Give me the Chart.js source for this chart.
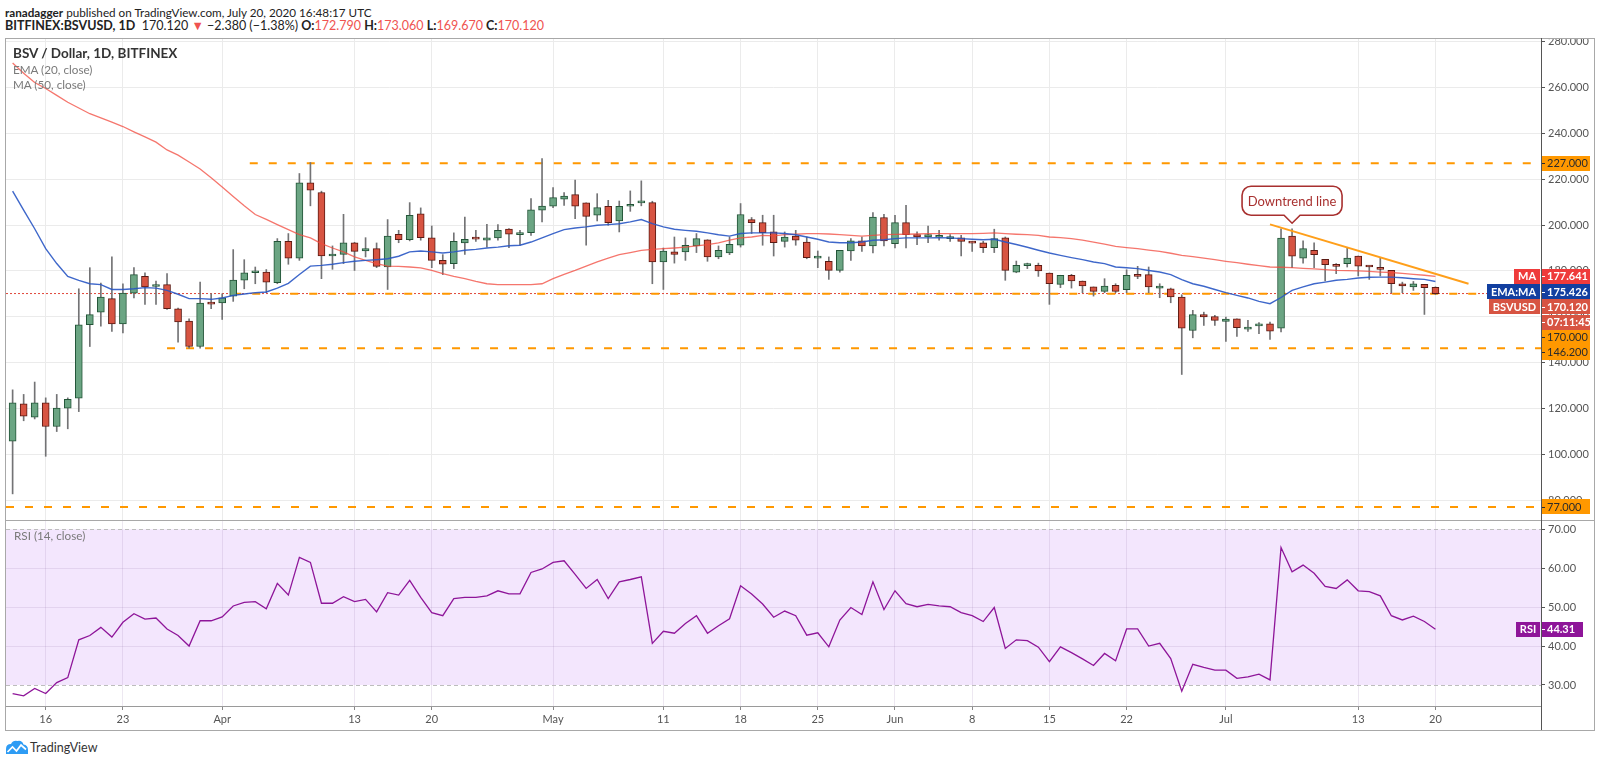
<!DOCTYPE html>
<html>
<head>
<meta charset="utf-8">
<script src="https://cdn.jsdelivr.net/npm/chart.js@4.4.1/dist/chart.umd.min.js"></script>
<style>
  body { margin: 0; width: 1600px; height: 763px; background: #fff; position: relative; overflow: hidden;
         font-family: Lato, "Liberation Sans", sans-serif; color: #222; }
  .abs { position: absolute; white-space: nowrap; }
  .hdr { font-size: 12.5px; line-height: 14px; }
  .red { color: #ef5350; }
  .leg { font-size: 11.7px; line-height: 15px; color: #7a7a7a; }
  canvas { position: absolute; }
</style>
</head>
<body>

<div class="abs hdr" style="left:5px;top:5px;font-size:11.7px;"><b>ranadagger</b> published on TradingView.com, July 20, 2020 16:48:17 UTC</div>
<div class="abs hdr" style="left:5px;top:19px;"><b>BITFINEX:BSVUSD, 1D</b>&nbsp; 170.120 <span class="red">▼</span> −2.380 (−1.38%) <b>O:</b><span class="red">172.790</span> <b>H:</b><span class="red">173.060</span> <b>L:</b><span class="red">169.670</span> <b>C:</b><span class="red">170.120</span></div>

<div class="abs" style="left:5px;top:38px;width:1588px;height:691px;border:1px solid #a8a8a8;"></div>
<canvas id="mainChart" width="1588" height="481" style="left:6px;top:39px;"></canvas>
<canvas id="rsiChart" width="1588" height="209" style="left:6px;top:521px;"></canvas>
<div class="abs" style="left:6px;top:520px;width:1588px;height:1px;background:#a8a8a8;"></div>
<div class="abs" style="left:1541px;top:38px;width:1px;height:692px;background:#555;"></div>

<div class="abs leg" style="left:13px;top:46px;color:#333;font-weight:bold;font-size:13.5px;">BSV / Dollar, 1D, BITFINEX</div>
<div class="abs leg" style="left:13px;top:62px;">EMA (20, close)</div>
<div class="abs leg" style="left:13px;top:77px;">MA (50, close)</div>
<div class="abs leg" style="left:14px;top:528px;">RSI (14, close)</div>

<div class="abs" style="left:5px;top:739px;">
  <svg width="24" height="15" viewBox="0 0 24 15">
    <path d="M1 14 L1 9 Q1 4 6 4 Q8 0 12.5 1 Q17 0 18.5 4.5 Q23 5 23 10 L23 14 Z" fill="#2e9cf4"/>
    <polyline points="2.5,12 7.5,7 11.5,11 16,5 21,9.5" fill="none" stroke="#fff" stroke-width="1.7"/>
  </svg>
</div>
<div class="abs" style="left:30px;top:740px;font-size:12.5px;color:#333;">TradingView</div>

<script>
// ---- data (day 0 = 13 Mar 2020, day 129 = 20 Jul 2020) ----
const open = [
  105.7, 122.0, 116.2, 122.4, 112.1, 120.1, 124.5, 156.5, 162.0, 167.9,
  156.9, 170.3, 177.6, 173.2, 174.0, 163.5, 158.1, 147.0, 166.0, 166.0,
  169.0, 176.0, 179.2, 179.5, 174.9, 192.9, 185.6, 218.4, 214.2, 186.5,
  187.2, 192.2, 188.7, 189.7, 181.7, 196.0, 193.6, 204.9, 194.4, 184.6,
  183.2, 192.2, 194.2, 193.4, 194.4, 198.2, 195.8, 196.7, 206.5, 208.3,
  211.3, 213.3, 209.7, 204.3, 208.2, 201.8, 208.2, 209.7, 209.8, 183.9,
  188.3, 188.3, 190.9, 193.6, 186.1, 187.8, 191.2, 202.4, 201.1, 197.0,
  192.9, 195.2, 192.6, 185.6, 184.2, 180.2, 188.7, 193.1, 190.9, 203.3,
  191.9, 201.1, 195.8, 194.8, 194.7, 194.1, 194.4, 192.5, 192.3, 190.1,
  194.4, 179.5, 182.3, 182.4, 179.1, 174.1, 178.1, 175.6, 173.0, 171.1,
  173.7, 171.8, 177.8, 178.4, 172.5, 172.2, 168.6, 154.0, 160.9, 160.1,
  158.0, 159.1, 154.6, 156.0, 156.9, 155.0, 195.2, 185.6, 189.0, 185.0,
  182.2, 183.2, 186.5, 181.8, 181.4, 180.2, 174.4, 173.0, 174.1, 172.79
];
const high = [
  128.1, 126.1, 131.5, 124.6, 126.1, 124.6, 172.2, 181.4, 174.7, 186.1,
  174.4, 181.4, 179.2, 175.6, 178.8, 163.8, 159.1, 175.1, 170.0, 170.0,
  189.3, 184.9, 181.7, 180.6, 194.1, 196.3, 222.5, 227.3, 214.8, 190.9,
  204.7, 192.5, 194.5, 192.2, 202.4, 197.7, 209.8, 207.5, 199.6, 187.1,
  196.6, 203.5, 197.7, 200.3, 200.2, 198.5, 197.7, 211.6, 229.0, 216.4,
  214.2, 219.6, 209.7, 213.7, 210.8, 210.5, 214.9, 219.3, 210.4, 190.0,
  194.8, 194.4, 196.3, 193.6, 190.9, 194.8, 209.4, 203.3, 204.3, 204.3,
  197.0, 197.7, 194.8, 188.7, 186.1, 189.0, 194.1, 194.8, 205.4, 204.7,
  204.3, 208.6, 197.0, 199.6, 197.7, 195.8, 195.5, 192.9, 192.9, 198.2,
  194.8, 184.3, 183.4, 183.4, 179.1, 178.1, 178.5, 175.6, 173.0, 176.6,
  174.4, 180.5, 182.0, 181.7, 174.4, 172.5, 169.6, 162.8, 162.0, 160.6,
  159.9, 159.1, 158.4, 157.4, 157.7, 198.4, 198.4, 193.1, 192.2, 185.0,
  183.2, 190.1, 186.5, 182.1, 185.6, 180.2, 175.1, 175.4, 174.1, 173.06
];
const low = [
  82.7, 114.6, 115.4, 99.1, 109.9, 111.1, 118.6, 147.0, 155.9, 153.6,
  152.9, 168.2, 165.4, 165.4, 163.2, 148.9, 146.3, 146.3, 163.5, 158.8,
  166.7, 172.2, 174.4, 170.5, 174.4, 182.9, 184.6, 208.4, 176.6, 180.7,
  183.2, 180.2, 186.1, 181.4, 171.9, 192.3, 193.1, 193.4, 181.4, 178.4,
  181.0, 187.2, 192.9, 190.4, 193.4, 190.1, 191.2, 195.5, 201.4, 207.6,
  208.6, 202.8, 191.2, 201.8, 199.9, 197.0, 206.0, 208.4, 174.4, 171.9,
  183.4, 184.6, 188.0, 184.2, 185.3, 187.1, 190.4, 196.3, 191.2, 186.5,
  190.4, 191.2, 185.3, 181.4, 176.3, 179.5, 184.6, 188.5, 187.8, 190.9,
  190.0, 190.0, 191.5, 192.3, 193.4, 192.9, 186.5, 188.5, 188.0, 188.0,
  175.9, 179.2, 181.0, 177.6, 165.4, 172.7, 172.5, 170.5, 169.0, 170.5,
  170.5, 170.5, 176.6, 170.5, 168.3, 166.1, 134.8, 150.8, 156.2, 156.2,
  149.2, 151.4, 153.6, 152.6, 150.1, 153.4, 181.4, 183.4, 181.4, 175.6,
  178.8, 181.7, 177.8, 176.3, 177.8, 170.5, 170.5, 171.5, 161.0, 169.67
];
const close = [
  122.4, 116.6, 122.4, 112.1, 120.1, 124.0, 156.5, 160.9, 168.6, 156.9,
  170.3, 178.4, 173.0, 174.0, 163.5, 157.7, 147.0, 166.0, 165.5, 168.2,
  176.0, 179.2, 179.5, 175.1, 192.9, 185.6, 218.4, 215.2, 186.5, 186.8,
  192.2, 188.5, 189.7, 182.0, 195.2, 193.6, 204.3, 194.5, 184.6, 182.9,
  192.9, 193.8, 193.9, 194.4, 197.7, 196.0, 196.2, 206.7, 208.3, 212.0,
  212.7, 208.3, 203.8, 207.6, 201.1, 208.2, 209.1, 210.5, 183.9, 188.7,
  187.2, 191.2, 194.1, 186.1, 189.0, 191.6, 204.6, 201.1, 196.7, 192.3,
  194.8, 193.4, 185.8, 186.4, 180.2, 189.0, 193.1, 190.9, 203.5, 193.1,
  201.1, 195.8, 194.8, 195.8, 195.3, 194.8, 192.9, 192.1, 190.1, 194.1,
  180.2, 182.4, 182.5, 180.0, 174.4, 178.1, 175.6, 173.4, 171.1, 173.4,
  171.1, 178.1, 177.6, 173.0, 173.4, 168.6, 155.0, 160.9, 159.9, 158.4,
  159.0, 155.2, 155.5, 156.3, 153.7, 194.3, 186.4, 189.7, 187.1, 182.7,
  182.0, 185.6, 182.1, 181.7, 180.7, 174.4, 173.4, 174.4, 172.7, 170.12
];
const ema20 = [
  214.8, 206.5, 198.4, 189.7, 183.2, 177.6, 175.9, 174.4, 174.0, 171.9,
  171.9, 172.2, 172.7, 172.5, 171.5, 169.8, 167.9, 167.9, 167.6, 168.2,
  169.3, 169.9, 170.5, 170.8, 172.5, 174.6, 178.4, 182.1, 182.4, 182.9,
  183.6, 184.2, 184.6, 184.9, 185.3, 186.4, 188.3, 188.7, 188.3, 187.8,
  188.3, 189.0, 189.4, 190.0, 190.4, 191.0, 191.2, 192.6, 194.4, 196.3,
  198.0, 198.7, 199.2, 199.9, 200.2, 200.6, 201.4, 202.4, 200.6, 199.2,
  198.2, 197.7, 197.3, 196.6, 195.8, 195.2, 196.3, 196.6, 196.6, 196.6,
  196.3, 195.8, 194.8, 193.8, 192.6, 192.3, 192.3, 192.6, 193.4, 193.6,
  194.1, 194.4, 194.4, 194.4, 194.5, 194.4, 194.1, 193.8, 193.6, 193.8,
  192.6, 191.5, 190.3, 189.0, 187.8, 186.8, 185.8, 184.9, 183.9, 183.2,
  181.7, 181.4, 181.0, 180.2, 179.5, 178.4, 176.2, 174.4, 173.3, 171.9,
  170.5, 169.3, 168.2, 166.7, 165.7, 168.4, 171.5, 173.0, 174.4, 175.1,
  175.9, 176.3, 176.9, 177.2, 177.3, 177.3, 177.0, 176.6, 176.3, 175.4
];
const ma50 = [
  270.7, 266.3, 262.2, 259.6, 256.6, 253.6, 251.1, 248.6, 246.8, 244.9,
  243.0, 240.7, 238.5, 236.2, 232.8, 230.5, 227.5, 224.5, 220.6, 216.6,
  212.5, 208.4, 204.6, 202.5, 200.2, 198.0, 195.8, 194.4, 191.9, 190.0,
  188.3, 186.1, 184.6, 183.2, 182.1, 182.0, 181.7, 181.3, 180.2, 178.8,
  177.6, 176.6, 175.4, 174.4, 174.0, 174.0, 174.0, 174.0, 174.4, 176.6,
  178.5, 180.2, 182.1, 183.9, 185.6, 187.1, 188.0, 189.0, 189.4, 189.7,
  190.0, 190.4, 190.9, 191.5, 192.2, 193.4, 194.4, 194.8, 195.5, 195.3,
  195.8, 196.0, 196.3, 196.3, 196.1, 195.8, 195.5, 195.2, 195.5, 195.8,
  195.9, 196.0, 196.1, 196.3, 196.3, 196.3, 196.3, 196.3, 196.4, 196.6,
  196.3, 196.0, 195.8, 195.5, 194.8, 194.5, 194.1, 193.4, 192.6, 191.7,
  190.7, 190.2, 189.7, 189.1, 188.5, 187.7, 186.8, 186.2, 185.6, 184.9,
  184.2, 183.6, 182.9, 182.3, 181.7, 181.6, 181.4, 181.1, 180.9, 180.6,
  180.2, 180.1, 180.0, 179.8, 179.5, 179.3, 178.9, 178.5, 178.1, 177.6
];
const rsi14 = [
  27.8, 27.2, 29.1, 27.8, 30.6, 31.9, 41.6, 42.7, 44.8, 42.3,
  46.1, 48.3, 46.9, 47.2, 44.4, 42.7, 40.0, 46.5, 46.5, 47.5,
  50.3, 51.2, 51.4, 49.6, 56.1, 53.1, 62.8, 61.5, 51.0, 51.0,
  52.7, 51.4, 52.0, 48.8, 53.7, 53.1, 56.9, 52.5, 48.6, 47.8,
  52.2, 52.5, 52.5, 52.9, 54.2, 53.4, 53.4, 58.9, 59.8, 61.5,
  61.9, 58.4, 54.8, 57.1, 52.2, 56.5, 57.1, 57.8, 40.7, 43.8,
  43.3, 45.8, 47.8, 43.3, 45.2, 47.0, 55.5, 53.4, 50.8, 47.4,
  49.0, 47.8, 42.8, 43.4, 39.8, 46.7, 49.9, 48.1, 56.5, 49.4,
  54.2, 50.9, 50.1, 50.7, 50.3, 50.1, 48.6, 47.8, 46.3, 49.9,
  39.4, 41.6, 41.4, 39.7, 36.0, 39.8, 38.3, 36.7, 35.0, 38.1,
  36.2, 44.4, 44.4, 40.0, 40.7, 36.8, 28.4, 35.3, 34.5, 33.8,
  33.8, 31.7, 32.1, 32.8, 31.3, 65.3, 59.1, 60.8, 58.7, 55.3,
  54.8, 57.0, 54.2, 54.0, 52.9, 47.8, 46.7, 47.7, 46.3, 44.31
];

const xTickDays   = [3, 10, 19, 31, 38, 49, 59, 66, 73, 80, 87, 94, 101, 110, 122, 129];
const xTickLabels = ['16', '23', 'Apr', '13', '20', 'May', '11', '18', '25', 'Jun', '8', '15', '22', 'Jul', '13', '20'];
const priceTicks  = [80, 100, 120, 140, 160, 180, 200, 220, 240, 260, 280];
const rsiTicks    = [30, 40, 50, 60, 70];

// horizontal levels drawn on the chart, and the day each one starts from
const levelPrices = [227, 170, 146.2, 77];
const levelFrom   = [21.5, 20, 14, -0.6];
const lastPrice   = 170.12;
const trendDays   = [114, 132];
const trendPrices = [200.3, 174.4];

// visible ranges
const dayMin = -0.6, dayMax = 138.57;
const priceMin = 71.3, priceMax = 281.2;
const rsiMin = 24.6, rsiMax = 72.13;

const UP = '#6ba583', DOWN = '#d75442', UP_EDGE = '#225437', DOWN_EDGE = '#5b1a13', WICK = '#737375';
const FONT = 'Lato, "Liberation Sans", sans-serif';
const gridColor = '#ebebeb';
const rsiGrid = 'rgba(140, 110, 170, 0.16)';

const isUp = close.map((c, i) => c >= open[i]);
const pts = arr => arr.map((v, i) => ({ x: i, y: v }));

// ---- label helpers for the price axis ----
function valueBox(ctx, area, yPix, text, bg, fg, bold) {
  const h = 15, left = area.right;
  ctx.fillStyle = bg;
  ctx.fillRect(left, Math.round(yPix - h / 2), 49, h);
  ctx.strokeStyle = fg;
  ctx.lineWidth = 1;
  ctx.beginPath();
  ctx.moveTo(left, Math.round(yPix) + 0.5);
  ctx.lineTo(left + 4, Math.round(yPix) + 0.5);
  ctx.stroke();
  ctx.fillStyle = fg;
  ctx.font = (bold ? 'bold ' : '') + '11px ' + FONT;
  ctx.textAlign = 'left';
  ctx.textBaseline = 'middle';
  ctx.fillText(text, left + 6, yPix + 0.5);
}

function tagBox(ctx, area, yPix, text, bg) {
  ctx.font = 'bold 11px ' + FONT;
  const w = Math.round(ctx.measureText(text).width) + 8, h = 15;
  ctx.fillStyle = bg;
  ctx.fillRect(area.right - w - 1, Math.round(yPix - h / 2), w, h);
  ctx.fillStyle = '#fff';
  ctx.textAlign = 'center';
  ctx.textBaseline = 'middle';
  ctx.fillText(text, area.right - 1 - w / 2, yPix + 0.5);
}

const mainOverlay = {
  id: 'mainOverlay',
  afterDraw(chart) {
    const { ctx, chartArea: area, scales: { x, y } } = chart;
    ctx.save();

    // callout over the start of the trend line
    const tipX = x.getPixelForValue(116), tipY = y.getPixelForValue(200.8);
    const w = 100, h = 29, r = 9;
    const l = tipX - w / 2, b = tipY - 8, t = b - h;
    ctx.beginPath();
    ctx.moveTo(l + r, t);
    ctx.lineTo(l + w - r, t);
    ctx.arcTo(l + w, t, l + w, t + r, r);
    ctx.lineTo(l + w, b - r);
    ctx.arcTo(l + w, b, l + w - r, b, r);
    ctx.lineTo(tipX + 8, b);
    ctx.lineTo(tipX, tipY);
    ctx.lineTo(tipX - 8, b);
    ctx.lineTo(l + r, b);
    ctx.arcTo(l, b, l, b - r, r);
    ctx.lineTo(l, t + r);
    ctx.arcTo(l, t, l + r, t, r);
    ctx.closePath();
    ctx.fillStyle = '#fff';
    ctx.fill();
    ctx.strokeStyle = '#a8302f';
    ctx.lineWidth = 1.6;
    ctx.stroke();
    ctx.fillStyle = '#a8302f';
    ctx.font = '13px ' + FONT;
    ctx.textAlign = 'center';
    ctx.textBaseline = 'middle';
    ctx.fillText('Downtrend line', tipX, (t + b) / 2 + 1);

    // price axis labels, stacked so they do not overlap
    valueBox(ctx, area, y.getPixelForValue(227), '227.000', '#ff9800', '#2b2b2b', false);
    valueBox(ctx, area, y.getPixelForValue(77), '77.000', '#ff9800', '#2b2b2b', false);

    const stack = [
      { v: ma50[ma50.length - 1], text: '177.641', bg: '#ef3b3b', tag: 'MA' },
      { v: ema20[ema20.length - 1], text: '175.426', bg: '#123fa0', tag: 'EMA:MA' },
      { v: lastPrice, text: '170.120', bg: DOWN, tag: 'BSVUSD' },
      { v: null, text: '07:11:45', bg: DOWN },
      { v: 170, text: '170.000', bg: '#ff9800', fg: '#2b2b2b' },
      { v: 146.2, text: '146.200', bg: '#ff9800', fg: '#2b2b2b' }
    ];
    let prev = -Infinity;
    stack.forEach(s => {
      const want = s.v === null ? prev + 15.2 : y.getPixelForValue(s.v);
      const yy = Math.max(want, prev + 15.2);
      prev = yy;
      valueBox(ctx, area, yy, s.text, s.bg, s.fg || '#fff', !s.fg);
      if (s.tag) tagBox(ctx, area, yy, s.tag, s.bg);
    });
    ctx.restore();
  }
};

const levelSets = levelPrices.map((p, i) => ({
  type: 'line',
  data: [{ x: levelFrom[i], y: p }, { x: dayMax, y: p }],
  borderColor: '#ff9800',
  borderWidth: 2,
  borderDash: [8, 11],
  pointRadius: 0,
  order: 3
}));

new Chart(document.getElementById('mainChart'), {
  type: 'bar',
  data: {
    datasets: [
      {
        label: 'EMA (20, close)',
        type: 'line',
        data: pts(ema20),
        borderColor: 'rgba(41, 87, 196, 0.9)',
        borderWidth: 1.4,
        pointRadius: 0,
        order: 0
      },
      {
        label: 'MA (50, close)',
        type: 'line',
        data: pts(ma50),
        borderColor: 'rgba(242, 72, 60, 0.75)',
        borderWidth: 1.3,
        pointRadius: 0,
        order: 0
      },
      {
        label: 'Downtrend line',
        type: 'line',
        data: trendDays.map((d, i) => ({ x: d, y: trendPrices[i] })),
        borderColor: '#ff9f1a',
        borderWidth: 2,
        pointRadius: 0,
        order: 0
      },
      {
        label: 'body',
        data: open.map((o, i) => ({ x: i, y: [o, close[i]] })),
        backgroundColor: isUp.map(u => (u ? UP : DOWN)),
        borderColor: isUp.map(u => (u ? UP_EDGE : DOWN_EDGE)),
        borderWidth: 1,
        borderSkipped: false,
        barThickness: 7,
        minBarLength: 2,
        grouped: false,
        order: 1
      },
      {
        label: 'wick',
        data: low.map((l, i) => ({ x: i, y: [l, high[i]] })),
        backgroundColor: WICK,
        barThickness: 1,
        grouped: false,
        order: 2
      },
      {
        label: 'last',
        type: 'line',
        data: [{ x: dayMin, y: lastPrice }, { x: dayMax, y: lastPrice }],
        borderColor: '#e0473a',
        borderWidth: 1,
        borderDash: [2, 2],
        pointRadius: 0,
        order: 4
      },
      ...levelSets
    ]
  },
  options: {
    responsive: false,
    animation: false,
    layout: { padding: 0 },
    plugins: { legend: { display: false }, tooltip: { enabled: false } },
    scales: {
      x: {
        type: 'linear',
        min: dayMin,
        max: dayMax,
        offset: false,
        grid: { color: gridColor, drawTicks: false, offset: false },
        border: { display: false },
        ticks: { display: false },
        afterBuildTicks: s => { s.ticks = xTickDays.map(v => ({ value: v })); },
        afterFit: s => { s.height = 0; s.paddingLeft = 0; s.paddingRight = 0; }
      },
      y: {
        type: 'linear',
        position: 'right',
        min: priceMin,
        max: priceMax,
        beginAtZero: false,
        grid: { color: gridColor, tickLength: 4, tickColor: '#555' },
        border: { display: false },
        ticks: { padding: 3, color: '#555', font: { family: FONT, size: 11 }, callback: v => v.toFixed(3) },
        afterBuildTicks: s => { s.ticks = priceTicks.map(v => ({ value: v })); },
        afterFit: s => { s.width = 53; s.paddingTop = 0; s.paddingBottom = 0; }
      }
    }
  },
  plugins: [mainOverlay]
});

// ---- RSI pane ----
const rsiOverlay = {
  id: 'rsiOverlay',
  beforeDraw(chart) {
    const { ctx, chartArea: a, scales: { y } } = chart;
    const top = y.getPixelForValue(70), bot = y.getPixelForValue(30);
    ctx.save();
    ctx.fillStyle = '#f3e6fd';
    ctx.fillRect(a.left, top, a.right - a.left, bot - top);
    ctx.restore();
  },
  beforeDatasetsDraw(chart) {
    const { ctx, chartArea: a, scales: { y } } = chart;
    ctx.save();
    ctx.strokeStyle = '#bdbdbd';
    ctx.lineWidth = 1;
    ctx.setLineDash([4, 3]);
    [70, 30].forEach(v => {
      const yy = Math.round(y.getPixelForValue(v)) + 0.5;
      ctx.beginPath();
      ctx.moveTo(a.left, yy);
      ctx.lineTo(a.right, yy);
      ctx.stroke();
    });
    ctx.restore();
  },
  afterDraw(chart) {
    const { ctx, chartArea: a, scales: { y } } = chart;
    const v = rsi14[rsi14.length - 1];
    const yy = y.getPixelForValue(v);
    ctx.save();
    const h = 15;
    ctx.fillStyle = '#8e1599';
    ctx.fillRect(a.right, Math.round(yy - h / 2), 42, h);
    ctx.strokeStyle = '#fff';
    ctx.beginPath();
    ctx.moveTo(a.right, Math.round(yy) + 0.5);
    ctx.lineTo(a.right + 4, Math.round(yy) + 0.5);
    ctx.stroke();
    ctx.fillStyle = '#fff';
    ctx.font = 'bold 11px ' + FONT;
    ctx.textAlign = 'left';
    ctx.textBaseline = 'middle';
    ctx.fillText(v.toFixed(2), a.right + 6, yy + 0.5);
    ctx.restore();
    tagBox(ctx, a, yy, 'RSI', '#8e1599');
  }
};

new Chart(document.getElementById('rsiChart'), {
  type: 'line',
  data: {
    datasets: [{
      label: 'RSI (14, close)',
      data: pts(rsi14),
      borderColor: '#8e1599',
      borderWidth: 1.3,
      pointRadius: 0
    }]
  },
  options: {
    responsive: false,
    animation: false,
    layout: { padding: 0 },
    plugins: { legend: { display: false }, tooltip: { enabled: false } },
    scales: {
      x: {
        type: 'linear',
        min: dayMin,
        max: dayMax,
        grid: { color: rsiGrid, tickLength: 4, tickColor: '#888' },
        border: { display: true, color: '#9a9a9a' },
        ticks: {
          autoSkip: false, maxRotation: 0, padding: 3, color: '#555',
          font: { family: FONT, size: 11 },
          callback: (v, i) => xTickLabels[i]
        },
        afterBuildTicks: s => { s.ticks = xTickDays.map(v => ({ value: v })); },
        afterFit: s => { s.height = 24; s.paddingLeft = 0; s.paddingRight = 0; }
      },
      y: {
        type: 'linear',
        position: 'right',
        min: rsiMin,
        max: rsiMax,
        grid: {
          color: c => (c.tick && (c.tick.value === 30 || c.tick.value === 70) ? 'rgba(0,0,0,0)' : rsiGrid),
          tickLength: 4,
          tickColor: '#555'
        },
        border: { display: false },
        ticks: { padding: 3, color: '#555', font: { family: FONT, size: 11 }, callback: v => v.toFixed(2) },
        afterBuildTicks: s => { s.ticks = rsiTicks.map(v => ({ value: v })); },
        afterFit: s => { s.width = 53; s.paddingTop = 0; s.paddingBottom = 0; }
      }
    }
  },
  plugins: [rsiOverlay]
});
</script>
</body>
</html>
